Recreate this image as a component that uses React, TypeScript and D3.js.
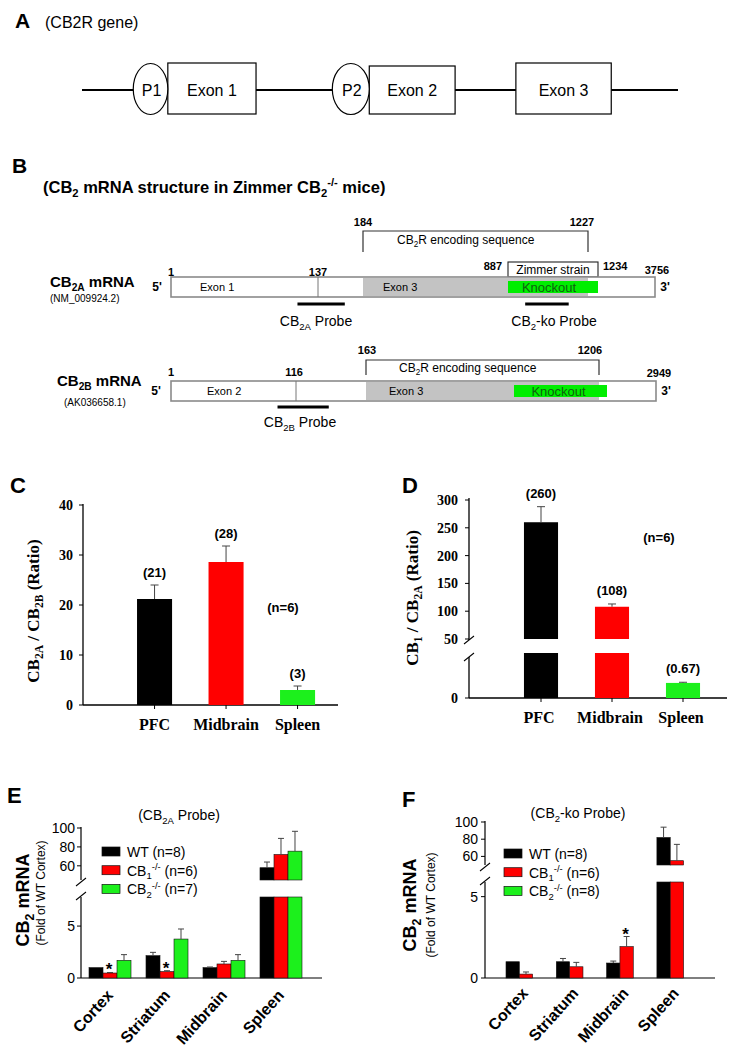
import React from 'react';
import * as d3 from 'd3';

const SANS = '"Liberation Sans", Arial, Helvetica, sans-serif';
const SERIF = '"Liberation Serif", "Times New Roman", Times, serif';
const GREEN = '#1cf01c';
const RED = '#ff0000';
const BLACK = '#000000';

// ---------- Panel A (schematic units 0..100 along the gene) ----------
const promoterLabels = ['P1', 'P2'];
const promoterSpans = [[8.6, 14.4], [42.0, 48.2]];
const exonLabels = ['Exon 1', 'Exon 2', 'Exon 3'];
const exonSpans = [[14.4, 29.2], [48.2, 62.6], [72.8, 88.8]];

// ---------- Panel B (nucleotide positions) ----------
const cb2aNodes = [1, 137, 184, 887, 1227, 1234, 3756];
const cb2bNodes = [1, 116, 163, 866, 1206, 1213, 2949];
const cb2aCoding = [184, 1227];
const cb2bCoding = [163, 1206];
const cb2aKnockout = [887, 1234];
const cb2bKnockout = [866, 1213];
const cb2aProbeA = [118, 165];
const cb2aProbeKo = [960, 1145];
const cb2bProbe = [99, 138];

// ---------- Panel C ----------
const tissues = ['PFC', 'Midbrain', 'Spleen'];
const tissueColors = [BLACK, RED, GREEN];
const cValues = [21.2, 28.6, 3.0];
const cErrors = [2.8, 3.2, 0.8];
const cLabels = ['(21)', '(28)', '(3)'];
const cTicks = [0, 10, 20, 30, 40];

// ---------- Panel D ----------
const dValues = [260, 108, 0.67];
const dErrors = [28, 5, 0.03];
const dLabels = ['(260)', '(108)', '(0.67)'];
const dUpperTicks = [50, 100, 150, 200, 250, 300];
const dLowerTicks = [0];

// ---------- Panels E / F ----------
const regions = ['Cortex', 'Striatum', 'Midbrain', 'Spleen'];
const genotypes = ['WT', 'CB1KO', 'CB2KO'];
const genotypeColors = [BLACK, RED, GREEN];
const eLegend = ['WT (n=8)', 'CB_{1}^{-/-} (n=6)', 'CB_{2}^{-/-} (n=7)'];
const fLegend = ['WT (n=8)', 'CB_{1}^{-/-} (n=6)', 'CB_{2}^{-/-} (n=8)'];
const eWT = [1.0, 2.15, 1.0, 58];
const eWTErr = [0.03, 0.32, 0.06, 6];
const eCB1 = [0.48, 0.62, 1.35, 72];
const eCB1Err = [0.05, 0.08, 0.25, 17];
const eCB2 = [1.7, 3.75, 1.7, 75.5];
const eCB2Err = [0.55, 0.97, 0.55, 21];
const eStars = [0, 1]; // region indexes with * on CB1-/-
const fWT = [1.0, 1.0, 0.92, 82];
const fWTErr = [0, 0.2, 0.12, 12];
const fCB1 = [0.24, 0.69, 1.93, 55];
const fCB1Err = [0.13, 0.27, 0.62, 19];
const fCB2 = [0, 0, 0, 0];
const fCB2Err = [0, 0, 0, 0];
const fStars = [2];
const upperTicksEF = [60, 80, 100];
const lowerTicksEF = [0, 5];

// ---------- rich text helper: _{sub} ^{sup} ----------
function parseRich(s: string): [string, string][] {
  const out: [string, string][] = [];
  let i = 0;
  let buf = '';
  while (i < s.length) {
    const c = s[i];
    if ((c === '_' || c === '^') && s[i + 1] === '{') {
      if (buf) { out.push([buf, 'n']); buf = ''; }
      const j = s.indexOf('}', i + 2);
      out.push([s.slice(i + 2, j), c === '_' ? 'b' : 'p']);
      i = j + 1;
    } else { buf += c; i++; }
  }
  if (buf) out.push([buf, 'n']);
  return out;
}

function T(props: any) {
  const { x = 0, y = 0, s, size = 12, anchor = 'start', weight = 'normal', family = SANS, fill = '#000', transform } = props;
  const parts = parseRich(s);
  let cur = 0;
  return (
    <text x={x} y={y} fontSize={size} fontFamily={family} fontWeight={weight} textAnchor={anchor}
      fill={fill} transform={transform} style={{ whiteSpace: 'pre' }}>
      {parts.map(([t, k], i) => {
        const target = k === 'b' ? size * 0.25 : k === 'p' ? -size * 0.4 : 0;
        const dy = target - cur;
        cur = target;
        return (
          <tspan key={i} dy={dy === 0 ? undefined : dy} fontSize={k === 'n' ? undefined : size * 0.68}>{t}</tspan>
        );
      })}
    </text>
  );
}

function PanelA() {
  const xs = d3.scaleLinear().domain([0, 100]).range([82, 678]);
  const yMid = 90;
  return (
    <g>
      <T x={15} y={28} s="A" size={21} weight="bold" />
      <T x={45} y={28} s="(CB2R gene)" size={16} />
      <line x1={xs(0)} x2={xs(100)} y1={yMid} y2={yMid} stroke="#000" strokeWidth={2} />
      {exonSpans.map(([a, b], i) => (
        <g key={i}>
          <rect x={xs(a)} y={i === 1 ? 66 : 63} width={xs(b) - xs(a)} height={i === 1 ? 48 : 51}
            fill="#fff" stroke="#000" strokeWidth={1.2} />
          <T x={(xs(a) + xs(b)) / 2} y={yMid + 6} s={exonLabels[i]} size={16} anchor="middle" />
        </g>
      ))}
      {promoterSpans.map(([a, b], i) => (
        <g key={i}>
          <ellipse cx={(xs(a) + xs(b)) / 2} cy={yMid - 1} rx={(xs(b) - xs(a)) / 2} ry={25.5}
            fill="#fff" stroke="#000" strokeWidth={1.2} />
          <T x={(xs(a) + xs(b)) / 2 + 1} y={yMid + 6} s={promoterLabels[i]} size={16} anchor="middle" />
        </g>
      ))}
    </g>
  );
}

function Bracket({ x1, x2, top, bottom }: any) {
  return <path d={`M${x1},${bottom}V${top}H${x2}V${bottom}`} fill="none" stroke="#333" strokeWidth={1.2} />;
}

function PanelB() {
  const xa = d3.scaleLinear().domain(cb2aNodes).range([171, 318, 363, 508, 588, 598, 655]);
  const xb = d3.scaleLinear().domain(cb2bNodes).range([171, 296, 366, 514, 599, 607, 656]);
  const aTop = 277, aBot = 297;
  const bTop = 381, bBot = 401;
  const boxStroke = '#8a8a8a';
  const gray = '#c3c3c3';
  const koGreen = '#00ee00';
  const koText = '#0f5f0f';
  return (
    <g>
      <T x={12} y={173} s="B" size={21} weight="bold" />
      <T x={43} y={193} s="(CB_{2} mRNA structure in Zimmer CB_{2}^{-/-} mice)" size={16.5} weight="bold" />

      {/* CB2A */}
      <T x={xa(184)} y={226} s="184" size={11} weight="bold" anchor="middle" />
      <T x={xa(1227) - 6} y={226} s="1227" size={11} weight="bold" anchor="middle" />
      <Bracket x1={xa(cb2aCoding[0])} x2={xa(cb2aCoding[1])} top={231} bottom={252} />
      <T x={397} y={244} s="CB_{2}R encoding sequence" size={12} />
      <rect x={xa(cb2aKnockout[0])} y={262} width={xa(cb2aKnockout[1]) - xa(cb2aKnockout[0])} height={aTop - 262}
        fill="#fff" stroke="#222" strokeWidth={1.1} />
      <T x={(xa(cb2aKnockout[0]) + xa(cb2aKnockout[1])) / 2} y={274} s="Zimmer strain" size={12} anchor="middle" />
      <T x={xa(887) - 6} y={270} s="887" size={11} weight="bold" anchor="end" />
      <T x={xa(1234) + 5} y={270} s="1234" size={11} weight="bold" />
      <T x={xa(3756) + 2} y={274} s="3756" size={11} weight="bold" anchor="middle" />
      <T x={xa(1)} y={276} s="1" size={11} weight="bold" anchor="middle" />
      <T x={xa(137)} y={276} s="137" size={11} weight="bold" anchor="middle" />

      <rect x={xa(1)} y={aTop} width={xa(3756) - xa(1)} height={aBot - aTop} fill="#fff" stroke={boxStroke} strokeWidth={1.6} />
      <rect x={xa(cb2aCoding[0])} y={aTop + 1} width={xa(cb2aCoding[1]) - xa(cb2aCoding[0])} height={aBot - aTop - 2} fill={gray} />
      <rect x={xa(cb2aKnockout[0])} y={aTop + 4} width={xa(cb2aKnockout[1]) - xa(cb2aKnockout[0])} height={aBot - aTop - 8} fill={koGreen} />
      <line x1={xa(137)} x2={xa(137)} y1={aTop} y2={aBot} stroke="#777" strokeWidth={1} />
      <T x={xa(1) + 29} y={291} s="Exon 1" size={11} />
      <T x={xa(184) + 20} y={291} s="Exon 3" size={11} />
      <T x={(xa(887) + xa(1234)) / 2 - 4} y={291.5} s="Knockout" size={13} fill={koText} anchor="middle" />
      <T x={157} y={291} s="5'" size={12} weight="bold" anchor="middle" />
      <T x={665} y={291} s="3'" size={12} weight="bold" anchor="middle" />
      <T x={50} y={287} s="CB_{2A} mRNA" size={15} weight="bold" />
      <T x={50} y={302} s="(NM_009924.2)" size={10} />
      <line x1={xa(cb2aProbeA[0])} x2={xa(cb2aProbeA[1])} y1={304} y2={304} stroke="#000" strokeWidth={3} />
      <line x1={xa(cb2aProbeKo[0])} x2={xa(cb2aProbeKo[1])} y1={304} y2={304} stroke="#000" strokeWidth={3} />
      <T x={316} y={326} s="CB_{2A} Probe" size={14} anchor="middle" />
      <T x={554} y={326} s="CB_{2}-ko Probe" size={14} anchor="middle" />

      {/* CB2B */}
      <T x={xb(163) + 1} y={354} s="163" size={11} weight="bold" anchor="middle" />
      <T x={xb(1206) - 9} y={354} s="1206" size={11} weight="bold" anchor="middle" />
      <Bracket x1={xb(cb2bCoding[0])} x2={xb(cb2bCoding[1])} top={360} bottom={375} />
      <T x={399} y={372} s="CB_{2}R encoding sequence" size={12} />
      <T x={xb(1)} y={376} s="1" size={11} weight="bold" anchor="middle" />
      <T x={xb(116) - 2} y={376} s="116" size={11} weight="bold" anchor="middle" />
      <T x={xb(2949) + 3} y={377} s="2949" size={11} weight="bold" anchor="middle" />
      <rect x={xb(1)} y={bTop} width={xb(2949) - xb(1)} height={bBot - bTop} fill="#fff" stroke={boxStroke} strokeWidth={1.6} />
      <rect x={xb(cb2bCoding[0])} y={bTop + 1} width={xb(cb2bCoding[1]) - xb(cb2bCoding[0])} height={bBot - bTop - 2} fill={gray} />
      <rect x={xb(cb2bKnockout[0])} y={bTop + 4} width={xb(cb2bKnockout[1]) - xb(cb2bKnockout[0])} height={bBot - bTop - 8} fill={koGreen} />
      <line x1={xb(116)} x2={xb(116)} y1={bTop} y2={bBot} stroke="#777" strokeWidth={1} />
      <T x={xb(1) + 36} y={395} s="Exon 2" size={11} />
      <T x={xb(163) + 23} y={395} s="Exon 3" size={11} />
      <T x={(xb(866) + xb(1213)) / 2 - 2} y={395.5} s="Knockout" size={13} fill={koText} anchor="middle" />
      <T x={156} y={395} s="5'" size={12} weight="bold" anchor="middle" />
      <T x={666} y={395} s="3'" size={12} weight="bold" anchor="middle" />
      <T x={57} y={386} s="CB_{2B} mRNA" size={15} weight="bold" />
      <T x={64} y={406} s="(AK036658.1)" size={10} />
      <line x1={xb(cb2bProbe[0])} x2={xb(cb2bProbe[1])} y1={407} y2={407} stroke="#000" strokeWidth={3} />
      <T x={300} y={427} s="CB_{2B} Probe" size={14} anchor="middle" />
    </g>
  );
}

function ErrBar({ cx, y1, y2, w = 4, color = '#444' }: any) {
  if (Math.abs(y1 - y2) < 0.5) return null;
  return (
    <g stroke={color} strokeWidth={1}>
      <line x1={cx} x2={cx} y1={y1} y2={y2} />
      <line x1={cx - w} x2={cx + w} y1={y2} y2={y2} />
    </g>
  );
}

function BreakMark({ x, y }: any) {
  return <line x1={x - 5} x2={x + 5} y1={y + 4} y2={y - 4} stroke="#000" strokeWidth={1.1} />;
}

function PanelC() {
  const x = d3.scaleBand<string>().domain(tissues).range([118.8, 333.3]).paddingInner(0.51).paddingOuter(0.255);
  const y = d3.scaleLinear().domain([0, 40]).range([705, 505]);
  const ax = 83, axEnd = 338;
  return (
    <g>
      <T x={10} y={493} s="C" size={22} weight="bold" />
      <line x1={ax} x2={ax} y1={y(40) - 1} y2={y(0)} stroke="#000" strokeWidth={1.3} />
      <line x1={ax} x2={axEnd} y1={y(0)} y2={y(0)} stroke="#000" strokeWidth={1.3} />
      {cTicks.map((t) => (
        <g key={t}>
          <line x1={ax - 4} x2={ax} y1={y(t)} y2={y(t)} stroke="#000" />
          <T x={ax - 10} y={y(t) + 5} s={String(t)} size={14} weight="bold" family={SERIF} anchor="end" />
        </g>
      ))}
      {tissues.map((c, i) => {
        const bx = x(c) as number;
        const bw = x.bandwidth();
        const v = cValues[i], e = cErrors[i];
        const cx = bx + bw / 2;
        return (
          <g key={c}>
            <rect x={bx} y={y(v)} width={bw} height={y(0) - y(v)} fill={tissueColors[i]} />
            <ErrBar cx={cx} y1={y(v)} y2={y(v + e)} />
            <T x={cx} y={y(v + e) - 8} s={cLabels[i]} size={13} weight="bold" anchor="middle" />
            <line x1={cx} x2={cx} y1={y(0)} y2={y(0) + 4} stroke="#000" />
            <T x={cx} y={730} s={c} size={16} weight="bold" family={SERIF} anchor="middle" />
          </g>
        );
      })}
      <T x={283} y={612} s="(n=6)" size={13} weight="bold" anchor="middle" />
      <T transform="translate(39,611) rotate(-90)" s="CB_{2A} / CB_{2B} (Ratio)" size={17} weight="bold" family={SERIF} anchor="middle" />
    </g>
  );
}

function PanelD() {
  const x = d3.scaleBand<string>().domain(tissues).range([505.5, 718.5]).paddingInner(0.52).paddingOuter(0.26);
  const yUp = d3.scaleLinear().domain([50, 300]).range([639, 500]);
  const yLo = d3.scaleLinear().domain([0, 2]).range([698, 653]);
  const ax = 469, axEnd = 727;
  const [lo0, lo1] = yLo.domain();
  const up0 = yUp.domain()[0];
  return (
    <g>
      <T x={402} y={493} s="D" size={22} weight="bold" />
      <line x1={ax} x2={ax} y1={yUp(300) - 2} y2={yUp(up0) + 1} stroke="#000" strokeWidth={1.3} />
      <line x1={ax} x2={ax} y1={yLo(lo1) + 4} y2={yLo(0)} stroke="#000" strokeWidth={1.3} />
      <BreakMark x={ax} y={yUp(up0) + 1} />
      <BreakMark x={ax} y={yLo(lo1) + 4} />
      <line x1={ax} x2={axEnd} y1={yLo(0)} y2={yLo(0)} stroke="#000" strokeWidth={1.3} />
      {dUpperTicks.map((t) => (
        <g key={t}>
          <line x1={ax - 4} x2={ax} y1={yUp(t)} y2={yUp(t)} stroke="#000" />
          <T x={ax - 11} y={yUp(t) + 5} s={String(t)} size={14} weight="bold" family={SERIF} anchor="end" />
        </g>
      ))}
      {dLowerTicks.map((t) => (
        <g key={t}>
          <line x1={ax - 4} x2={ax} y1={yLo(t)} y2={yLo(t)} stroke="#000" />
          <T x={ax - 11} y={yLo(t) + 5} s={String(t)} size={14} weight="bold" family={SERIF} anchor="end" />
        </g>
      ))}
      {tissues.map((c, i) => {
        const bx = x(c) as number;
        const bw = x.bandwidth();
        const v = dValues[i], e = dErrors[i];
        const cx = bx + bw / 2;
        const broken = v > lo1;
        const topY = broken ? yUp(v) : yLo(v);
        const errY = broken ? yUp(v + e) : yLo(v + e);
        return (
          <g key={c}>
            <rect x={bx} y={broken ? yLo(lo1) : yLo(v)} width={bw} height={yLo(lo0) - (broken ? yLo(lo1) : yLo(v))} fill={tissueColors[i]} />
            {broken && <rect x={bx} y={yUp(v)} width={bw} height={yUp(up0) - yUp(v)} fill={tissueColors[i]} />}
            <ErrBar cx={cx} y1={topY} y2={errY} />
            <T x={cx} y={errY - 9} s={dLabels[i]} size={13} weight="bold" anchor="middle" />
            <line x1={cx} x2={cx} y1={yLo(0)} y2={yLo(0) + 4} stroke="#000" />
            <T x={cx - 2} y={723} s={c} size={16} weight="bold" family={SERIF} anchor="middle" />
          </g>
        );
      })}
      <T x={659} y={542} s="(n=6)" size={13} weight="bold" anchor="middle" />
      <T transform="translate(418,598) rotate(-90)" s="CB_{1} / CB_{2A} (Ratio)" size={17} weight="bold" family={SERIF} anchor="middle" />
    </g>
  );
}

function GroupedPanel(p: any) {
  const x = d3.scaleBand<string>().domain(regions).range(p.bandRange).paddingInner(p.pIn).paddingOuter(p.pOut);
  const xi = d3.scaleBand<string>().domain(genotypes).range([0, x.bandwidth()]);
  const lower = p.lower, upper = p.upper;
  const [lo0, lo1] = lower.domain();
  const [up0, up1] = upper.domain();
  const ax = p.axisX;
  const base = lower(lo0);
  return (
    <g>
      <T x={p.letterX} y={p.letterY} s={p.letter} size={22} weight="bold" />
      <T x={p.titleX} y={p.titleY} s={p.title} size={14} anchor="middle" />
      <line x1={ax} x2={ax} y1={upper(up1) - 1} y2={upper(up0)} stroke="#000" strokeWidth={1.2} />
      <line x1={ax} x2={ax} y1={lower(lo1)} y2={base} stroke="#000" strokeWidth={1.2} />
      <BreakMark x={ax} y={upper(up0) + 2} />
      <BreakMark x={ax} y={lower(lo1) - 1} />
      <line x1={ax} x2={p.axisEnd} y1={base} y2={base} stroke="#000" strokeWidth={1.2} />
      {upperTicksEF.map((t) => (
        <g key={'u' + t}>
          <line x1={ax - 4} x2={ax} y1={upper(t)} y2={upper(t)} stroke="#000" />
          <T x={p.tickX} y={upper(t) + 5} s={String(t)} size={14} anchor="end" />
        </g>
      ))}
      {lowerTicksEF.map((t) => (
        <g key={'l' + t}>
          <line x1={ax - 4} x2={ax} y1={lower(t)} y2={lower(t)} stroke="#000" />
          <T x={p.tickX} y={lower(t) + 5} s={String(t)} size={14} anchor="end" />
        </g>
      ))}
      {regions.map((r, ri) => (
        <g key={r}>
          {genotypes.map((g, gi) => {
            const v = p.values[gi][ri];
            const e = p.errors[gi][ri];
            const bx = (x(r) as number) + (xi(g) as number);
            const bw = xi.bandwidth();
            const cx = bx + bw / 2;
            if (v <= 0) return null;
            const broken = v > lo1;
            const topY = broken ? upper(v) : lower(v);
            const errY = broken ? upper(v + e) : lower(v + e);
            return (
              <g key={g}>
                <rect x={bx} y={broken ? lower(lo1) : lower(v)} width={bw} height={base - (broken ? lower(lo1) : lower(v))}
                  fill={genotypeColors[gi]} stroke="#111" strokeWidth={0.6} />
                {broken && <rect x={bx} y={upper(v)} width={bw} height={upper(up0) - upper(v)} fill={genotypeColors[gi]} stroke="#111" strokeWidth={0.6} />}
                <ErrBar cx={cx} y1={topY} y2={errY} w={3} />
                {gi === 1 && p.stars.includes(ri) && (
                  <T x={cx - 1} y={errY + 3} s="*" size={17} weight="bold" anchor="middle" />
                )}
              </g>
            );
          })}
          <T transform={`translate(${(x(r) as number) + x.bandwidth() / 2 + p.catDx},${base + p.catDy}) rotate(-48)`}
            s={r} size={16} weight="bold" anchor="end" />
        </g>
      ))}
      {p.legend.map((l: string, i: number) => (
        <g key={i}>
          <rect x={p.legendX} y={p.legendY + i * 18.7} width={18} height={9} fill={genotypeColors[i]} stroke="#111" strokeWidth={0.7} />
          <T x={p.legendX + 25} y={p.legendY + i * 18.7 + 10} s={l} size={14} />
        </g>
      ))}
      <T transform={`translate(${p.ylabX},${p.ylabY}) rotate(-90)`} s="CB_{2} mRNA" size={18} weight="bold" anchor="middle" />
      <T transform={`translate(${p.ylab2X},${p.ylab2Y}) rotate(-90)`} s="(Fold of WT Cortex)" size={12} anchor="middle" />
    </g>
  );
}

export default function App() {
  const eLower = d3.scaleLinear().domain([0, 7.8]).range([978, 897]);
  const eUpper = d3.scaleLinear().domain([45, 100]).range([880, 828]);
  const fLower = d3.scaleLinear().domain([0, 5.9]).range([978, 882]);
  const fUpper = d3.scaleLinear().domain([50, 100]).range([865, 822]);
  return (
    <svg width={734} height={1050} viewBox="0 0 734 1050"
      style={{ position: 'absolute', left: 0, top: 0, display: 'block', background: '#fff' }}
      fontFamily={SANS}>
      <rect x={0} y={0} width={734} height={1050} fill="#fff" />
      <PanelA />
      <PanelB />
      <PanelC />
      <PanelD />
      <GroupedPanel letter="E" letterX={7} letterY={803} title="(CB_{2A} Probe)" titleX={179} titleY={820}
        bandRange={[81.5, 309.5]} pIn={0.263} pOut={0.1316} axisX={81} axisEnd={322}
        lower={eLower} upper={eUpper} tickX={75}
        values={[eWT, eCB1, eCB2]} errors={[eWTErr, eCB1Err, eCB2Err]} stars={eStars}
        legend={eLegend} legendX={102} legendY={847}
        catDx={4} catDy={18}
        ylabX={29} ylabY={900} ylab2X={45} ylab2Y={893} />
      <GroupedPanel letter="F" letterX={402} letterY={807} title="(CB_{2}-ko Probe)" titleX={578} titleY={818}
        bandRange={[500.85, 702.05]} pIn={0.205} pOut={0.1025} axisX={485} axisEnd={715}
        lower={fLower} upper={fUpper} tickX={478}
        values={[fWT, fCB1, fCB2]} errors={[fWTErr, fCB1Err, fCB2Err]} stars={fStars}
        legend={fLegend} legendX={504} legendY={849}
        catDx={3} catDy={16}
        ylabX={416} ylabY={905} ylab2X={435} ylab2Y={905} />
    </svg>
  );
}
